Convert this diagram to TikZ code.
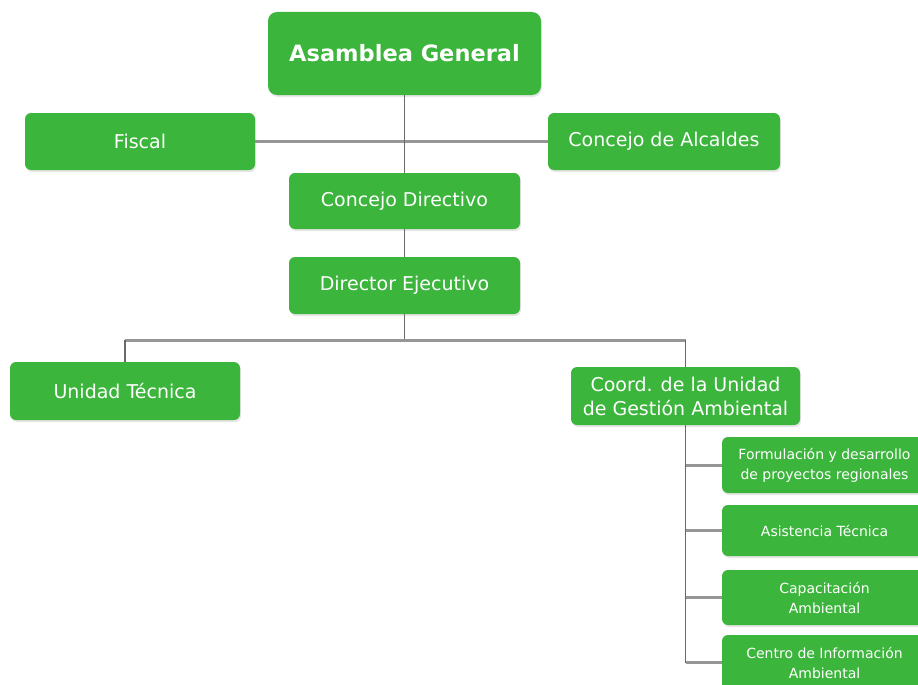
\documentclass[tikz,border=0pt]{standalone}
\usepackage{fontspec}
\setmainfont{DejaVu Sans}
\usetikzlibrary{shadows}
\definecolor{boxgreen}{RGB}{59,181,59}
\definecolor{linegray}{RGB}{150,150,150}
\definecolor{stemgray}{RGB}{105,105,105}

\begin{document}
\begin{tikzpicture}[x=1pt,y=-1pt,
  unit/.style={rectangle, rounded corners=6pt, fill=boxgreen, text=white, align=center, inner sep=0pt,
    drop shadow={opacity=0.2, shadow xshift=1pt, shadow yshift=-2pt}, font=\fontsize{19}{24}\selectfont},
  subunit/.style={unit, font=\fontsize{14}{20}\selectfont, minimum width=205pt},
  branch/.style={draw=linegray, line width=3pt},
  stem/.style={draw=stemgray, line width=1.4pt}]
\useasboundingbox (0,0) rectangle (918,685);
\node[unit, rounded corners=9pt, minimum width=273pt, minimum height=83pt, font=\fontsize{22.5}{26}\selectfont\bfseries] (asamblea) at (404.5,53.5) {Asamblea General};
\node[unit, minimum width=230pt, minimum height=57pt] (fiscal) at (140,141.5) {Fiscal};
\node[unit, minimum width=232pt, minimum height=57pt] (alcaldes) at (664,141.5) {Concejo de Alcaldes};
\node[unit, minimum width=231pt, minimum height=56pt] (directivo) at (404.5,201) {Concejo Directivo};
\node[unit, minimum width=231pt, minimum height=57pt] (ejecutivo) at (404.5,285.5) {Director Ejecutivo};
\node[unit, minimum width=230pt, minimum height=58pt] (tecnica) at (125,391) {Unidad Técnica};
\node[unit, minimum width=229pt, minimum height=58pt] (coord) at (685.5,396) {Coord. de la Unidad\\de Gestión Ambiental};
\node[subunit, minimum height=56pt] (formulacion) at (824.5,465) {Formulación y desarrollo\\de proyectos regionales};
\node[subunit, minimum height=51pt] (asistencia) at (824.5,530.5) {Asistencia Técnica};
\node[subunit, minimum height=55pt] (capacitacion) at (824.5,597.5) {Capacitación\\Ambiental};
\node[subunit, minimum height=55pt] (centro) at (824.5,662.5) {Centro de Información\\Ambiental};
\coordinate (split) at (404.5,340);
% connectors
\draw[branch] (fiscal.east) -- (alcaldes.west);
\draw[stem] (asamblea.south) -- (directivo.north);
\draw[stem] (directivo.south) -- (ejecutivo.north);
\draw[stem] (ejecutivo.south) -- (split);
\draw[branch] (tecnica.north |- split) -- (coord.north |- split);
\draw[stem] (tecnica.north |- split) -- (tecnica.north);
\draw[stem] (coord.north |- split) -- (coord.north);
\draw[stem] (coord.south) -- (coord.south |- centro.west);
\foreach \sub in {formulacion,asistencia,capacitacion,centro}
  \draw[branch] (coord.south |- \sub.west) -- (\sub.west);
\end{tikzpicture}
\end{document}
